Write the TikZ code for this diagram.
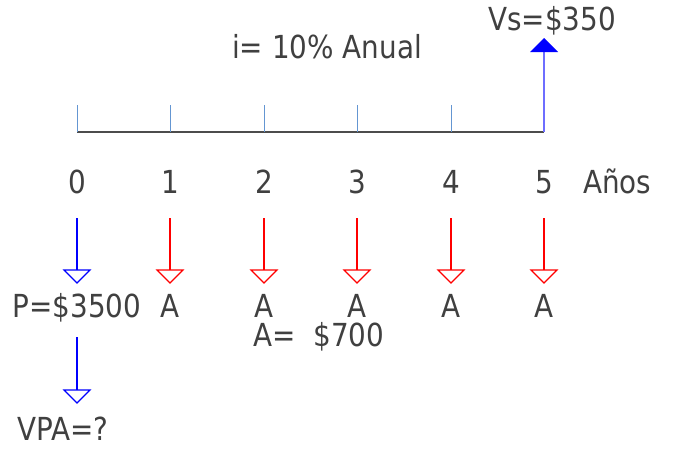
\documentclass[tikz,border=0pt]{standalone}
\usepackage{graphicx}
\usepackage{fontspec}
\setmainfont{DejaVu Sans}
\newcommand{\tallt}[1]{\scalebox{1.07}[1.22]{#1}}
\begin{document}
\begin{tikzpicture}[x=1pt,y=-1pt,
  lbl/.style={font=\fontsize{26}{30}\selectfont, text=black!75, inner sep=0pt, anchor=base},
  tick/.style={draw=tickblue, line width=0.9pt},
  axis/.style={draw=black!70, line width=1.2pt},
  downhead/.style={line width=1.1pt, fill=white},
]
\definecolor{tickblue}{RGB}{100,150,210}
\useasboundingbox (0,0) rectangle (677,448);
% axis
\coordinate (a0) at (77,132);
\coordinate (a5) at (544,132);
\draw[axis] (a0) -- (a5);
\foreach \i/\x in {0/77,1/170,2/264,3/357,4/451,5/544}{
  \coordinate (t\i) at (\x,105);
  \coordinate (b\i) at (\x,132);
  \draw[tick] (t\i) -- (b\i);
  \node[lbl] (n\i) at (\x,193) {\tallt{\i}};
}
\node[lbl, anchor=base west] (anos) at (583,193) {\tallt{Años}};
\node[lbl] (rate) at (327,58) {\tallt{i= 10\%\ Anual}};
% Vs arrow
\coordinate (vsb) at (544,132);
\coordinate (vst) at (544,52);
\draw[draw={rgb,255:red,110;green,110;blue,255}, line width=1.4pt] (vsb) -- (vst);
\fill[blue] (530,52) -- (558,52) -- (544,38) -- cycle;
\node[lbl] (vs) at (552,30) {\tallt{Vs=\$350}};
% down arrows
\foreach \i/\x/\c in {0/77/blue,1/170/red,2/264/red,3/357/red,4/451/red,5/544/red}{
  \coordinate (s\i) at (\x,218);
  \coordinate (e\i) at (\x,270);
  \draw[draw=\c, line width=1.2pt] (s\i) -- (e\i);
  \draw[draw=\c, downhead] (\x-13,270) -- (\x+13,270) -- (\x,283) -- cycle;
}
\foreach \i/\x in {1/170,2/264,3/357,4/451,5/544}{
  \node[lbl] (A\i) at (\x,317) {\tallt{A}};
}
\node[lbl] (P) at (77,317) {\tallt{P=\$3500}};
\node[lbl] (Aval) at (319,346) {\tallt{A=\ \ \$700}};
% second blue arrow
\coordinate (s6) at (77,337);
\coordinate (e6) at (77,390);
\draw[draw=blue, line width=1.2pt] (s6) -- (e6);
\draw[draw=blue, downhead] (64,390) -- (90,390) -- (77,403) -- cycle;
\node[lbl] (vpa) at (63,440) {\tallt{VPA=?}};
\end{tikzpicture}
\end{document}
